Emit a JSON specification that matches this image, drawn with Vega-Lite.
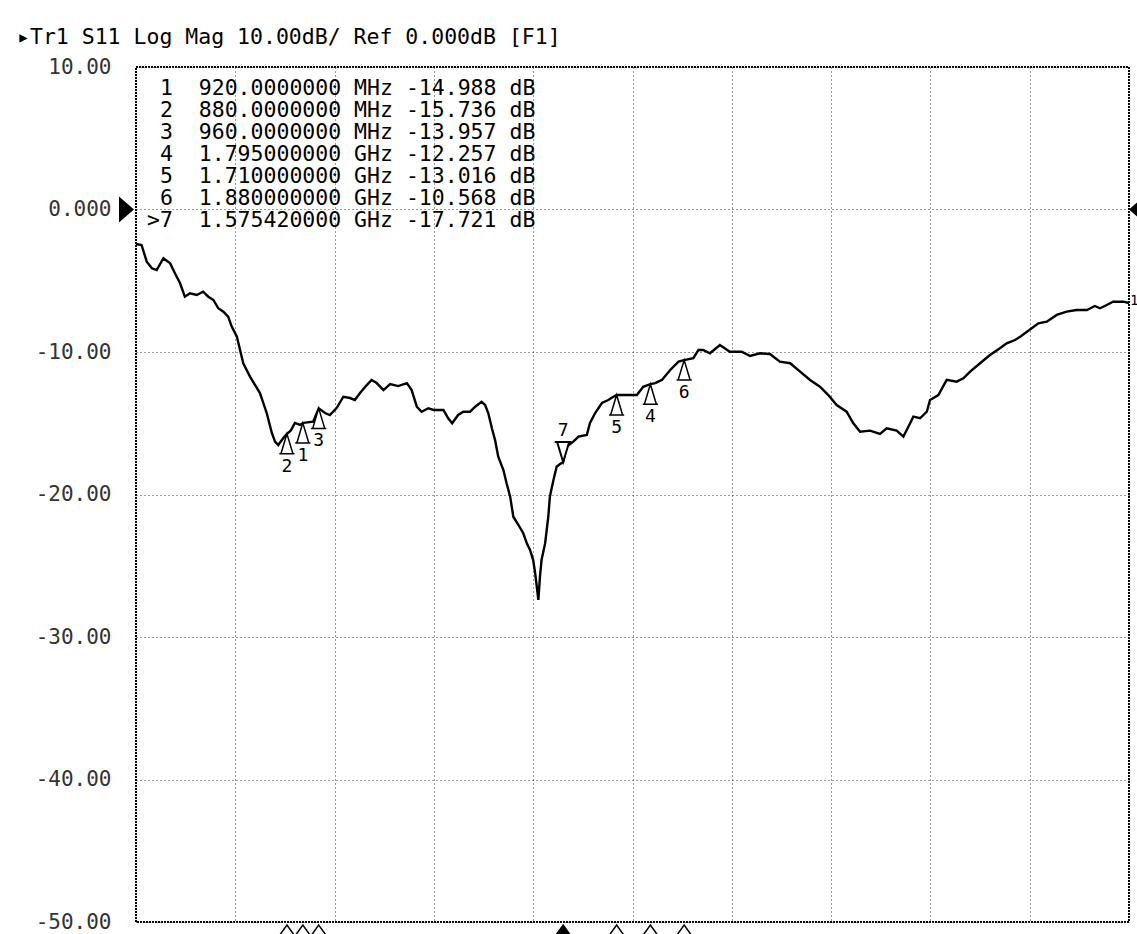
{
  "$schema": "https://vega.github.io/schema/vega-lite/v6.json",
  "width": 993,
  "height": 855,
  "autosize": {"type": "none"},
  "padding": {"left": 136, "top": 67, "right": 8, "bottom": 12},
  "background": "#ffffff",
  "config": {
    "font": "DejaVu Sans Mono",
    "view": {"stroke": "#000000", "strokeWidth": 2, "strokeDash": [2, 1]}
  },
  "title": {
    "text": "\u25b8Tr1 S11 Log Mag 10.00dB/ Ref 0.000dB [F1]",
    "anchor": "start",
    "frame": "group",
    "dx": -119,
    "dy": 33,
    "offset": 24,
    "baseline": "alphabetic",
    "font": "DejaVu Sans Mono",
    "fontSize": 21.5,
    "fontWeight": "normal",
    "color": "#000000"
  },
  "datasets": {
    "trace": [
      {"f": 500, "db": -2.42}, {"f": 514, "db": -2.49}, {"f": 527, "db": -3.66}, {"f": 540, "db": -4.13},
      {"f": 552, "db": -4.25}, {"f": 569, "db": -3.42}, {"f": 586, "db": -3.78}, {"f": 598, "db": -4.48},
      {"f": 611, "db": -5.18}, {"f": 623, "db": -6.12}, {"f": 636, "db": -5.88}, {"f": 653, "db": -6.0},
      {"f": 669, "db": -5.77}, {"f": 682, "db": -6.12}, {"f": 695, "db": -6.35}, {"f": 707, "db": -6.93},
      {"f": 720, "db": -7.17}, {"f": 732, "db": -7.52}, {"f": 741, "db": -8.22}, {"f": 754, "db": -8.93},
      {"f": 762, "db": -9.86}, {"f": 770, "db": -10.79}, {"f": 787, "db": -11.73}, {"f": 812, "db": -12.88},
      {"f": 829, "db": -14.28}, {"f": 842, "db": -15.68}, {"f": 850, "db": -16.29}, {"f": 858, "db": -16.53},
      {"f": 871, "db": -16.04}, {"f": 880, "db": -15.736}, {"f": 890, "db": -15.5}, {"f": 900, "db": -14.98},
      {"f": 913, "db": -15.12}, {"f": 920, "db": -14.988}, {"f": 926, "db": -14.96}, {"f": 946, "db": -14.89},
      {"f": 960, "db": -13.957}, {"f": 976, "db": -14.28}, {"f": 988, "db": -14.42}, {"f": 1005, "db": -13.93},
      {"f": 1022, "db": -13.14}, {"f": 1039, "db": -13.23}, {"f": 1051, "db": -13.37}, {"f": 1064, "db": -12.88},
      {"f": 1081, "db": -12.32}, {"f": 1093, "db": -11.96}, {"f": 1106, "db": -12.18}, {"f": 1123, "db": -12.67},
      {"f": 1140, "db": -12.25}, {"f": 1160, "db": -12.39}, {"f": 1182, "db": -12.18}, {"f": 1194, "db": -12.67},
      {"f": 1207, "db": -13.84}, {"f": 1219, "db": -14.19}, {"f": 1236, "db": -13.95}, {"f": 1249, "db": -14.07},
      {"f": 1274, "db": -14.07}, {"f": 1286, "db": -14.65}, {"f": 1296, "db": -15.0}, {"f": 1311, "db": -14.42},
      {"f": 1324, "db": -14.19}, {"f": 1341, "db": -14.19}, {"f": 1354, "db": -13.84}, {"f": 1370, "db": -13.49},
      {"f": 1379, "db": -13.72}, {"f": 1387, "db": -14.3}, {"f": 1396, "db": -15.35}, {"f": 1404, "db": -16.18},
      {"f": 1412, "db": -17.35}, {"f": 1425, "db": -18.28}, {"f": 1433, "db": -19.21}, {"f": 1442, "db": -20.15},
      {"f": 1450, "db": -21.56}, {"f": 1463, "db": -22.14}, {"f": 1475, "db": -22.72}, {"f": 1484, "db": -23.43},
      {"f": 1492, "db": -23.89}, {"f": 1500, "db": -24.6}, {"f": 1505, "db": -25.53}, {"f": 1509, "db": -26.47},
      {"f": 1513, "db": -27.4}, {"f": 1517, "db": -25.77}, {"f": 1521, "db": -24.6}, {"f": 1530, "db": -23.43},
      {"f": 1538, "db": -21.56}, {"f": 1542, "db": -20.15}, {"f": 1551, "db": -18.98}, {"f": 1559, "db": -18.05},
      {"f": 1566, "db": -17.9}, {"f": 1575.42, "db": -17.721}, {"f": 1584, "db": -16.65}, {"f": 1601, "db": -16.29},
      {"f": 1614, "db": -15.94}, {"f": 1635, "db": -15.82}, {"f": 1643, "db": -14.98}, {"f": 1656, "db": -14.28},
      {"f": 1673, "db": -13.58}, {"f": 1689, "db": -13.37}, {"f": 1702, "db": -13.14}, {"f": 1710, "db": -13.016},
      {"f": 1727, "db": -13.02}, {"f": 1761, "db": -13.02}, {"f": 1777, "db": -12.44}, {"f": 1795, "db": -12.257},
      {"f": 1807, "db": -12.18}, {"f": 1824, "db": -11.96}, {"f": 1845, "db": -11.26}, {"f": 1866, "db": -10.68},
      {"f": 1880, "db": -10.568}, {"f": 1903, "db": -10.44}, {"f": 1916, "db": -9.86}, {"f": 1928, "db": -9.86},
      {"f": 1945, "db": -10.09}, {"f": 1970, "db": -9.51}, {"f": 1995, "db": -9.98}, {"f": 2025, "db": -9.98},
      {"f": 2046, "db": -10.28}, {"f": 2071, "db": -10.09}, {"f": 2096, "db": -10.14}, {"f": 2121, "db": -10.68},
      {"f": 2147, "db": -10.79}, {"f": 2172, "db": -11.38}, {"f": 2197, "db": -11.96}, {"f": 2222, "db": -12.44},
      {"f": 2243, "db": -13.02}, {"f": 2264, "db": -13.72}, {"f": 2289, "db": -14.19}, {"f": 2306, "db": -15.0},
      {"f": 2323, "db": -15.59}, {"f": 2348, "db": -15.52}, {"f": 2373, "db": -15.75}, {"f": 2390, "db": -15.35},
      {"f": 2415, "db": -15.52}, {"f": 2432, "db": -15.94}, {"f": 2449, "db": -15.0}, {"f": 2457, "db": -14.54},
      {"f": 2474, "db": -14.65}, {"f": 2491, "db": -14.19}, {"f": 2499, "db": -13.37}, {"f": 2520, "db": -13.02},
      {"f": 2541, "db": -11.96}, {"f": 2566, "db": -12.08}, {"f": 2583, "db": -11.85}, {"f": 2600, "db": -11.38},
      {"f": 2625, "db": -10.79}, {"f": 2650, "db": -10.21}, {"f": 2675, "db": -9.74}, {"f": 2692, "db": -9.39},
      {"f": 2713, "db": -9.16}, {"f": 2726, "db": -8.93}, {"f": 2743, "db": -8.58}, {"f": 2772, "db": -7.99},
      {"f": 2793, "db": -7.87}, {"f": 2818, "db": -7.4}, {"f": 2843, "db": -7.17}, {"f": 2868, "db": -7.05},
      {"f": 2894, "db": -7.05}, {"f": 2914, "db": -6.77}, {"f": 2927, "db": -6.93}, {"f": 2944, "db": -6.7},
      {"f": 2960, "db": -6.47}, {"f": 2986, "db": -6.47}, {"f": 3000, "db": -6.56}
    ],
    "markers": [
      {"id": 1, "f": 920, "db": -14.988, "active": false},
      {"id": 2, "f": 880, "db": -15.736, "active": false},
      {"id": 3, "f": 960, "db": -13.957, "active": false},
      {"id": 4, "f": 1795, "db": -12.257, "active": false},
      {"id": 5, "f": 1710, "db": -13.016, "active": false},
      {"id": 6, "f": 1880, "db": -10.568, "active": false},
      {"id": 7, "f": 1575.42, "db": -17.721, "active": true}
    ]
  },
  "layer": [
    {
      "data": {"name": "trace"},
      "mark": {"type": "line", "color": "#000000", "strokeWidth": 2.4},
      "encoding": {
        "x": {
          "field": "f", "type": "quantitative",
          "scale": {"domain": [500, 3000], "nice": false, "zero": false},
          "axis": {
            "title": null, "labels": false, "ticks": false, "domain": false,
            "grid": true, "values": [750, 1000, 1250, 1500, 1750, 2000, 2250, 2500, 2750],
            "gridColor": "#333333", "gridDash": [1, 3], "gridWidth": 1
          }
        },
        "y": {
          "field": "db", "type": "quantitative",
          "scale": {"domain": [-50, 10], "nice": false, "zero": false},
          "axis": {
            "title": null, "ticks": false, "domain": false,
            "values": [-50, -40, -30, -20, -10, 0, 10],
            "grid": true, "gridColor": "#333333", "gridDash": [1, 3], "gridWidth": 1,
            "labelExpr": "datum.value == 0 ? '0.000' : replace(format(datum.value, '.2f'), '\u2212', '-')",
            "labelFont": "DejaVu Sans Mono", "labelFontSize": 21, "labelColor": "#333333",
            "labelPadding": 25
          }
        }
      }
    },
    {
      "data": {"name": "markers"},
      "transform": [{"filter": "!datum.active"}],
      "mark": {
        "type": "point", "filled": false, "opacity": 1,
        "shape": "M0,0L-0.3,1L0.3,1Z M-0.38,1L0.38,1",
        "size": 1600, "fill": "#ffffff", "stroke": "#000000", "strokeWidth": 1.5
      },
      "encoding": {
        "x": {"field": "f", "type": "quantitative"},
        "y": {"field": "db", "type": "quantitative"}
      }
    },
    {
      "data": {"name": "markers"},
      "transform": [{"filter": "!datum.active"}],
      "mark": {"type": "text", "dy": 33, "fontSize": 18, "font": "DejaVu Sans Mono", "color": "#000000"},
      "encoding": {
        "x": {"field": "f", "type": "quantitative"},
        "y": {"field": "db", "type": "quantitative"},
        "text": {"field": "id", "type": "nominal"}
      }
    },
    {
      "data": {"name": "markers"},
      "transform": [{"filter": "datum.active"}],
      "mark": {
        "type": "point", "filled": false, "opacity": 1,
        "shape": "M0,0L-0.3,-1L0.3,-1Z M-0.42,-1L0.42,-1",
        "size": 1600, "fill": "#ffffff", "stroke": "#000000", "strokeWidth": 2
      },
      "encoding": {
        "x": {"field": "f", "type": "quantitative"},
        "y": {"field": "db", "type": "quantitative"}
      }
    },
    {
      "data": {"name": "markers"},
      "transform": [{"filter": "datum.active"}],
      "mark": {"type": "text", "dy": -31, "fontSize": 18, "font": "DejaVu Sans Mono", "color": "#000000"},
      "encoding": {
        "x": {"field": "f", "type": "quantitative"},
        "y": {"field": "db", "type": "quantitative"},
        "text": {"field": "id", "type": "nominal"}
      }
    },
    {
      "data": {"name": "markers"},
      "mark": {
        "type": "point", "opacity": 1,
        "shape": "M-1,1.4L0,0L1,1.4Z",
        "size": 225, "stroke": "#000000", "strokeWidth": 1.5, "yOffset": 3
      },
      "encoding": {
        "x": {"field": "f", "type": "quantitative"},
        "y": {"datum": -50},
        "fill": {"condition": {"test": "datum.active", "value": "#000000"}, "value": "#ffffff"}
      }
    },
    {
      "data": {"name": "markers"},
      "transform": [
        {
          "calculate": "(datum.active ? '>' : '\u200b\u00a0') + datum.id + '\u00a0\u00a0' + (datum.f < 1000 ? format(datum.f, '.7f') + '\u00a0MHz' : format(datum.f / 1000, '.9f') + '\u00a0GHz') + '\u00a0' + replace(format(datum.db, '.3f'), '\u2212', '-') + '\u00a0dB'",
          "as": "label"
        },
        {"aggregate": [{"op": "values", "field": "label", "as": "rows"}]},
        {"calculate": "pluck(datum.rows, 'label')", "as": "lines"}
      ],
      "mark": {
        "type": "text", "align": "left", "baseline": "top",
        "font": "DejaVu Sans Mono", "fontSize": 21.5, "lineHeight": 22,
        "dx": 11, "dy": 11, "color": "#000000"
      },
      "encoding": {
        "x": {"datum": 500},
        "y": {"datum": 10},
        "text": {"field": "lines", "type": "nominal"}
      }
    },
    {
      "data": {"values": [{"ref": 0}]},
      "mark": {
        "type": "point", "opacity": 1, "filled": true, "color": "#000000",
        "shape": "M0,0L-1,-0.87L-1,0.87Z", "size": 900, "xOffset": -2
      },
      "encoding": {
        "x": {"datum": 500},
        "y": {"field": "ref", "type": "quantitative"}
      }
    },
    {
      "data": {"values": [{"ref": 0}]},
      "mark": {
        "type": "point", "opacity": 1, "filled": true, "color": "#000000",
        "shape": "M0,0L1,-0.87L1,0.87Z", "size": 400
      },
      "encoding": {
        "x": {"datum": 3000},
        "y": {"field": "ref", "type": "quantitative"}
      }
    },
    {
      "data": {"name": "trace"},
      "transform": [{"filter": "datum.f >= 3000"}],
      "mark": {"type": "text", "align": "left", "dx": 1, "dy": -2, "fontSize": 14, "font": "DejaVu Sans Mono", "color": "#000000"},
      "encoding": {
        "x": {"field": "f", "type": "quantitative"},
        "y": {"field": "db", "type": "quantitative"},
        "text": {"value": "1"}
      }
    }
  ]
}
